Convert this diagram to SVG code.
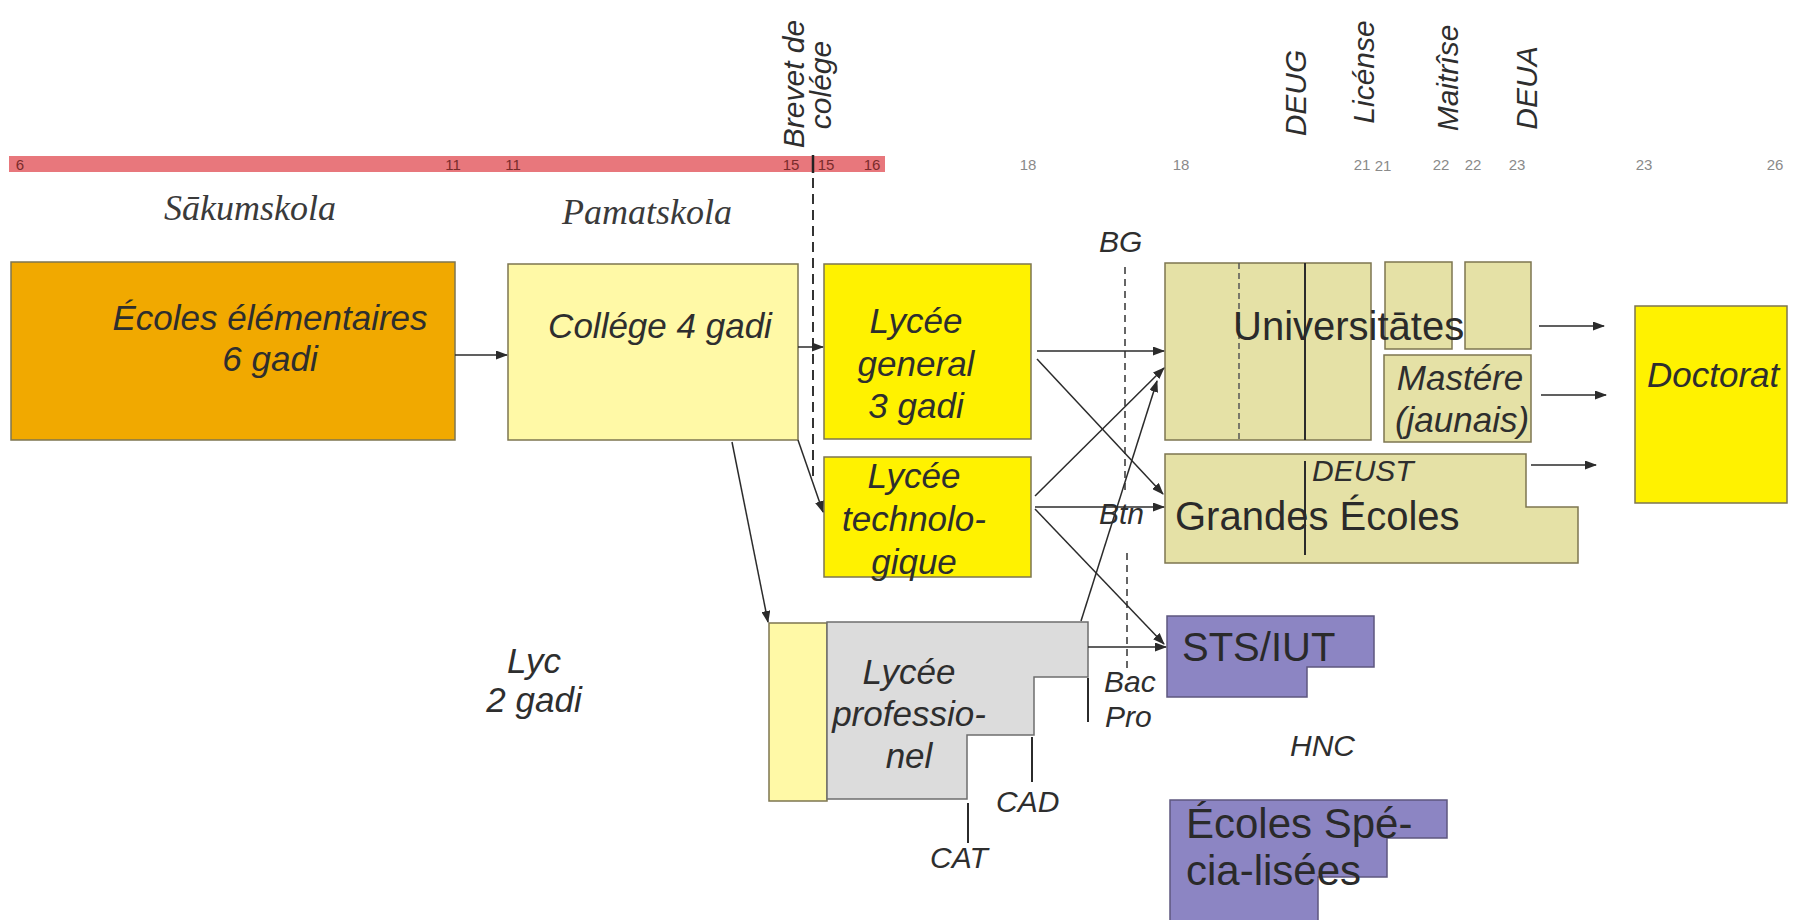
<svg xmlns="http://www.w3.org/2000/svg" width="1798" height="920" viewBox="0 0 1798 920">
<defs>
<marker id="arr" markerUnits="userSpaceOnUse" markerWidth="12" markerHeight="9" refX="11" refY="4.5" orient="auto">
<path d="M0,0 L12,4.5 L0,9 z" fill="#2b2b2b"/>
</marker>
<style>
.it{font-family:"Liberation Sans",Arial,sans-serif;font-style:italic;fill:#2e2e2e}
.rg{font-family:"Liberation Sans",Arial,sans-serif;fill:#2a2a2a}
.sf{font-family:"Liberation Serif","Times New Roman",serif;font-style:italic;fill:#3a3a3a;font-size:36px}
.m{font-size:35px}
.s{font-size:30px}
.b{font-size:40px}
.bb{font-size:42px}
.num{font-family:"Liberation Sans Narrow","Liberation Sans",Arial,sans-serif;font-size:15px;text-anchor:middle}
.bx{stroke:#7d7650;stroke-width:1.5}
.kh{fill:#E5E1A6}
.pu{fill:#8C85C3;stroke:#5d577f;stroke-width:1.5}
.cn{stroke:#2b2b2b;stroke-width:1.5;fill:none;marker-end:url(#arr)}
.tk{stroke:#2b2b2b;stroke-width:2}
.ds{stroke:#333;stroke-width:1.5;stroke-dasharray:7 5;fill:none}
</style>
</defs>
<rect width="1798" height="920" fill="#ffffff"/>

<g id="timeline">
<rect x="9" y="156" width="876" height="16" fill="#E8777C"/>
<g class="num" fill="#7a2b2b">
<text x="20" y="170">6</text>
<text x="453" y="170">11</text>
<text x="513" y="170">11</text>
<text x="791" y="170">15</text>
<text x="826" y="170">15</text>
<text x="872" y="170">16</text>
</g>
<g class="num" fill="#8a8a8a">
<text x="1028" y="170">18</text>
<text x="1181" y="170">18</text>
<text x="1362" y="170">21</text>
<text x="1383" y="171">21</text>
<text x="1441" y="170">22</text>
<text x="1473" y="170">22</text>
<text x="1517" y="170">23</text>
<text x="1644" y="170">23</text>
<text x="1775" y="170">26</text>
</g>
<line x1="813" y1="155" x2="813" y2="173" stroke="#222" stroke-width="2.5"/>
<line x1="813" y1="178" x2="813" y2="480" stroke="#333" stroke-width="2" stroke-dasharray="10 6"/>
</g>

<g id="top-labels" class="it s" text-anchor="middle">
<text transform="translate(804,84) rotate(-90)">Brevet de</text>
<text transform="translate(831,85) rotate(-90)">colége</text>
<text transform="translate(1306,93) rotate(-90)">DEUG</text>
<text transform="translate(1374,72) rotate(-90)">Licénse</text>
<text transform="translate(1458,78) rotate(-90)">Maitrîse</text>
<text transform="translate(1537,88) rotate(-90)">DEUA</text>
</g>

<g id="stage-labels">
<text class="sf" x="164" y="220">Sākumskola</text>
<text class="sf" x="562" y="224">Pamatskola</text>
</g>

<g id="ecoles-elementaires">
<rect class="bx" x="11" y="262" width="444" height="178" fill="#F1A900"/>
<text class="it m" x="270" y="330" text-anchor="middle">Écoles élémentaires</text>
<text class="it m" x="270" y="371" text-anchor="middle">6 gadi</text>
</g>

<g id="college">
<rect class="bx" x="508" y="264" width="290" height="176" fill="#FFF9A6"/>
<text class="it m" x="660" y="338" text-anchor="middle">Collége 4 gadi</text>
</g>

<g id="lycee-general">
<rect class="bx" x="824" y="264" width="207" height="175" fill="#FFF200"/>
<text class="it m" x="916" y="333" text-anchor="middle">Lycée</text>
<text class="it m" x="916" y="376" text-anchor="middle">general</text>
<text class="it m" x="916" y="418" text-anchor="middle">3 gadi</text>
</g>

<g id="lycee-technologique">
<rect class="bx" x="824" y="457" width="207" height="120" fill="#FFF200"/>
<text class="it m" x="914" y="488" text-anchor="middle">Lycée</text>
<text class="it m" x="914" y="531" text-anchor="middle">technolo-</text>
<text class="it m" x="914" y="574" text-anchor="middle">gique</text>
</g>

<g id="lycee-professionnel">
<rect class="bx" x="769" y="623" width="58" height="178" fill="#FFF9A6"/>
<polygon points="827,622 1088,622 1088,677 1034,677 1034,735 967,735 967,799 827,799" fill="#DCDCDC" stroke="#6e6e6e" stroke-width="1.5"/>
<text class="it m" x="909" y="684" text-anchor="middle">Lycée</text>
<text class="it m" x="909" y="726" text-anchor="middle">professio-</text>
<text class="it m" x="909" y="768" text-anchor="middle">nel</text>
<line class="tk" x1="1088" y1="678" x2="1088" y2="722"/>
<line class="tk" x1="1032" y1="737" x2="1032" y2="782"/>
<line class="tk" x1="968" y1="803" x2="968" y2="843"/>
<text class="it s" x="1104" y="692">Bac</text>
<text class="it s" x="1105" y="727">Pro</text>
<text class="it s" x="996" y="812">CAD</text>
<text class="it s" x="930" y="868">CAT</text>
</g>

<g id="lyc-2-gadi">
<text class="it m" x="534" y="673" text-anchor="middle">Lyc</text>
<text class="it m" x="534" y="712" text-anchor="middle">2 gadi</text>
</g>

<g id="bac-markers">
<text class="it s" x="1099" y="252">BG</text>
<line class="ds" x1="1125" y1="267" x2="1125" y2="493"/>
<text class="it s" x="1099" y="524">Btn</text>
<line class="ds" x1="1127" y1="553" x2="1127" y2="670"/>
</g>

<g id="universitates">
<rect class="bx kh" x="1165" y="263" width="206" height="177"/>
<line x1="1239" y1="263" x2="1239" y2="440" stroke="#555" stroke-width="1.5" stroke-dasharray="6 4"/>
<line x1="1305" y1="263" x2="1305" y2="440" stroke="#2b2b2b" stroke-width="2"/>
<rect class="bx kh" x="1385" y="262" width="67" height="87"/>
<rect class="bx kh" x="1465" y="262" width="66" height="87"/>
<text class="rg b" x="1233" y="340">Universitātes</text>
</g>

<g id="mastere">
<rect class="bx kh" x="1384" y="355" width="147" height="87"/>
<text class="it m" x="1460" y="390" text-anchor="middle">Mastére</text>
<text class="it m" x="1462" y="432" text-anchor="middle">(jaunais)</text>
</g>

<g id="grandes-ecoles">
<polygon class="bx kh" points="1165,454 1526,454 1526,507 1578,507 1578,563 1165,563"/>
<line x1="1305" y1="461" x2="1305" y2="555" stroke="#2b2b2b" stroke-width="2"/>
<text class="it s" x="1312" y="481">DEUST</text>
<text class="rg b" x="1175" y="530">Grandes Écoles</text>
</g>

<g id="doctorat">
<rect class="bx" x="1635" y="306" width="152" height="197" fill="#FFF200"/>
<text class="it m" x="1647" y="387">Doctorat</text>
</g>

<g id="sts-iut">
<polygon class="pu" points="1167,616 1374,616 1374,667 1307,667 1307,697 1167,697"/>
<text class="rg b" x="1182" y="661">STS/IUT</text>
</g>

<g id="hnc">
<text class="it s" x="1290" y="756">HNC</text>
</g>

<g id="ecoles-specialisees">
<polygon class="pu" points="1170,800 1447,800 1447,838 1387,838 1387,877 1318,877 1318,925 1170,925"/>
<text class="rg bb" x="1186" y="838">Écoles Spé-</text>
<text class="rg bb" x="1186" y="885">cia-lisées</text>
</g>

<g id="connectors">
<line class="cn" x1="455" y1="355" x2="507" y2="355"/>
<line class="cn" x1="798" y1="347" x2="823" y2="347"/>
<line class="cn" x1="798" y1="440" x2="823" y2="512"/>
<line class="cn" x1="732" y1="442" x2="768" y2="622"/>
<line class="cn" x1="1037" y1="351" x2="1164" y2="351"/>
<line class="cn" x1="1037" y1="359" x2="1163" y2="494"/>
<line class="cn" x1="1035" y1="496" x2="1164" y2="368"/>
<line class="cn" x1="1035" y1="507" x2="1164" y2="507"/>
<line class="cn" x1="1035" y1="509" x2="1164" y2="644"/>
<line class="cn" x1="1081" y1="621" x2="1157" y2="381"/>
<line class="cn" x1="1088" y1="647" x2="1166" y2="647"/>
<line class="cn" x1="1539" y1="326" x2="1604" y2="326"/>
<line class="cn" x1="1541" y1="395" x2="1606" y2="395"/>
<line class="cn" x1="1531" y1="465" x2="1596" y2="465"/>
</g>
</svg>
